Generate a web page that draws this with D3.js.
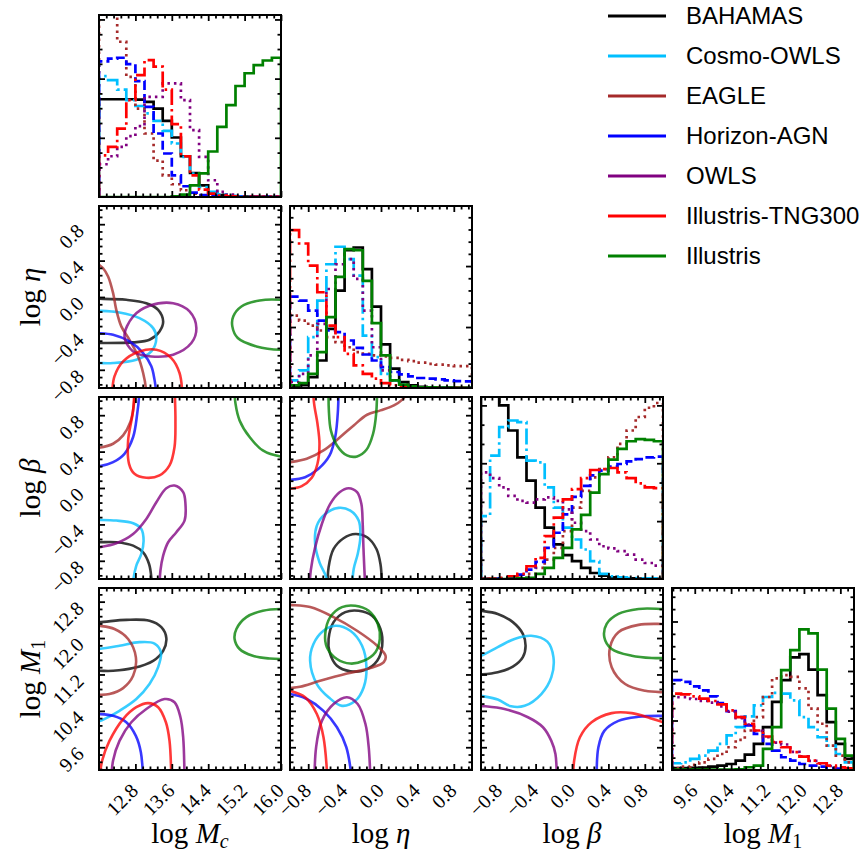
<!DOCTYPE html>
<html>
<head>
<meta charset="utf-8">
<script src="https://cdn.jsdelivr.net/npm/d3@7"></script>
<style>
body{margin:0;background:#fff;}
svg{display:block;}
</style>
</head>
<body>
<svg id="chart" width="862" height="859"></svg>
<script>
// simulations, in plotting order
var sims = ["BAHAMAS","Cosmo-OWLS","EAGLE","Horizon-AGN","OWLS","Illustris-TNG300","Illustris"];
var colors = ["#000000","#00bfff","#a52a2a","#0000ff","#800080","#ff0000","#008000"];
var dashes = [null,"16,4,2.5,4","2.5,4","9,4","2.5,4","16,4,2.5,4",null];

var params = ["Mc","eta","beta","M1"];
var ranges = {Mc:[12,16], eta:[-1,1], beta:[-1,1], M1:[9.1,13.1]};
var majorTicks = {
    Mc:[12.8,13.6,14.4,15.2,16.0],
    eta:[-0.8,-0.4,0.0,0.4,0.8],
    beta:[-0.8,-0.4,0.0,0.4,0.8],
    M1:[9.6,10.4,11.2,12.0,12.8]
};
// unlabelled y ticks of the histograms (relative height units): spacing, and every n-th is long
var histTickStep = [0.0813, 0.067, 0.106, 0.068];
var histTickMajorEvery = [4, 5, 3, 4];

// 1d histograms, 20 bins over the range, heights relative to the panel
var histMc = [
 [0.537,0.537,0.537,0.537,0.535,0.523,0.486,0.418,0.327,0.224,0.132,0.064,0.022,0.01,0.004,0.003,0.002,0.002,0.001,0.001],
 [0.664,0.642,0.59,0.532,0.5,0.459,0.418,0.363,0.294,0.22,0.128,0.055,0.028,0.015,0.007,0.004,0.002,0.002,0.001,0.001],
 [1.1,1.3,0.853,0.66,0.486,0.349,0.2,0.119,0.07,0.037,0.018,0.008,0.004,0.002,0.001,0.001,0.001,0.001,0.001,0.001],
 [0.745,0.76,0.765,0.73,0.637,0.495,0.349,0.239,0.119,0.059,0.024,0.01,0.005,0.003,0.002,0.001,0.001,0.001,0.001,0.001],
 [0.18,0.224,0.275,0.334,0.389,0.55,0.55,0.624,0.624,0.532,0.367,0.22,0.092,0.028,0.013,0.004,0.002,0.001,0.001,0.001],
 [0.229,0.275,0.376,0.532,0.67,0.752,0.716,0.59,0.4,0.224,0.119,0.04,0.018,0.008,0.003,0.002,0.001,0.001,0.001,0.001],
 [0,0,0,0,0,0,0,0,0.003,0.013,0.064,0.13,0.25,0.385,0.505,0.61,0.68,0.725,0.75,0.765]
];
var histEta = [
 [0.005,0.015,0.06,0.151,0.325,0.535,0.757,0.772,0.653,0.447,0.24,0.106,0.033,0.015,0.007,0.003,0.002,0.002,0.001,0.001],
 [0.042,0.097,0.279,0.48,0.68,0.776,0.708,0.617,0.288,0.17,0.078,0.042,0.018,0.009,0.004,0.003,0.002,0.002,0.001,0.001],
 [0.398,0.37,0.343,0.316,0.279,0.252,0.224,0.197,0.188,0.179,0.173,0.166,0.155,0.148,0.139,0.133,0.128,0.124,0.12,0.12],
 [0.502,0.48,0.425,0.37,0.316,0.307,0.261,0.221,0.184,0.151,0.115,0.088,0.075,0.064,0.055,0.051,0.047,0.042,0.038,0.036],
 [0.033,0.078,0.179,0.352,0.544,0.68,0.708,0.6,0.425,0.224,0.097,0.042,0.018,0.008,0.005,0.003,0.002,0.002,0.001,0.001],
 [0.867,0.794,0.672,0.526,0.343,0.279,0.188,0.124,0.078,0.051,0.027,0.015,0.007,0.004,0.003,0.002,0.002,0.001,0.001,0.001],
 [0.015,0.027,0.078,0.197,0.389,0.611,0.763,0.757,0.589,0.356,0.179,0.042,0.018,0.009,0.004,0.003,0.002,0.002,0.001,0.001]
];
var histBeta = [
 [1.08,1.02,0.954,0.816,0.668,0.54,0.392,0.282,0.19,0.131,0.098,0.061,0.033,0.018,0.009,0.004,0.003,0.002,0.001,0.001],
 [0.346,0.678,0.834,0.871,0.862,0.65,0.641,0.503,0.392,0.282,0.217,0.162,0.098,0.028,0.015,0.009,0.005,0.004,0.003,0.003],
 [0.001,0.001,0.002,0.003,0.006,0.028,0.061,0.107,0.171,0.263,0.392,0.484,0.558,0.604,0.669,0.742,0.816,0.89,0.941,0.967],
 [0.001,0.002,0.003,0.006,0.024,0.052,0.094,0.171,0.254,0.355,0.451,0.512,0.569,0.595,0.617,0.632,0.646,0.659,0.668,0.672],
 [0.586,0.554,0.503,0.457,0.429,0.42,0.438,0.448,0.429,0.383,0.309,0.263,0.217,0.18,0.168,0.153,0.134,0.107,0.088,0.074],
 [0.001,0.002,0.006,0.015,0.028,0.07,0.116,0.236,0.337,0.438,0.494,0.554,0.599,0.604,0.61,0.586,0.554,0.525,0.503,0.499],
 [0,0,0,0.001,0.003,0.006,0.028,0.061,0.116,0.171,0.273,0.352,0.475,0.576,0.656,0.715,0.757,0.769,0.764,0.757]
];
var histM1 = [
 [0.011,0.011,0.012,0.013,0.018,0.024,0.033,0.052,0.085,0.144,0.236,0.374,0.494,0.619,0.637,0.552,0.411,0.263,0.144,0.061],
 [0.037,0.042,0.061,0.079,0.107,0.144,0.19,0.236,0.295,0.355,0.401,0.424,0.42,0.383,0.291,0.236,0.18,0.134,0.088,0.042],
 [0.01,0.018,0.028,0.042,0.061,0.088,0.125,0.166,0.217,0.291,0.401,0.503,0.521,0.512,0.448,0.337,0.254,0.134,0.079,0.042],
 [0.494,0.484,0.46,0.438,0.405,0.368,0.324,0.291,0.245,0.199,0.144,0.107,0.07,0.052,0.033,0.024,0.018,0.01,0.008,0.006],
 [0.40,0.40,0.39,0.38,0.37,0.35,0.32,0.285,0.25,0.215,0.18,0.15,0.14,0.1,0.075,0.05,0.035,0.022,0.014,0.008],
 [0.42,0.416,0.405,0.392,0.379,0.361,0.328,0.291,0.254,0.217,0.184,0.153,0.125,0.098,0.074,0.052,0.037,0.024,0.015,0.009],
 [0.002,0.002,0.002,0.002,0.002,0.002,0.002,0.003,0.015,0.024,0.116,0.236,0.549,0.659,0.773,0.751,0.552,0.337,0.171,0.079]
];

// 2d contours (one level), points in data units; a contour whose last point repeats the first is a closed loop
var cMcEta = [
 [[11.65,-0.02],[12.0,-0.02],[12.6,-0.031],[13.04,-0.068],[13.3,-0.141],[13.41,-0.269],[13.33,-0.378],[13.11,-0.47],[12.75,-0.499],[12.0,-0.506],[11.65,-0.506]],
 [[11.65,-0.152],[12.0,-0.152],[12.45,-0.17],[12.89,-0.232],[13.19,-0.342],[13.26,-0.451],[13.15,-0.598],[12.82,-0.689],[12.31,-0.726],[12.0,-0.726],[11.65,-0.718]],
 [[11.9,0.39],[12.0,0.353],[12.09,0.316],[12.2,0.225],[12.31,0.042],[12.38,-0.141],[12.49,-0.323],[12.67,-0.47],[12.86,-0.653],[12.97,-0.835],[13.03,-1.0],[13.04,-1.13]],
 [[11.72,-0.397],[12.0,-0.397],[12.31,-0.415],[12.67,-0.488],[12.97,-0.616],[13.15,-0.762],[13.22,-0.908],[13.26,-1.055]],
 [[12.56,-0.433],[12.75,-0.214],[13.11,-0.097],[13.63,-0.068],[13.99,-0.159],[14.14,-0.342],[14.03,-0.506],[13.63,-0.634],[13.15,-0.653],[12.75,-0.598],[12.56,-0.433]],
 [[12.29,-1.055],[12.34,-0.872],[12.53,-0.707],[12.89,-0.598],[13.26,-0.579],[13.59,-0.671],[13.77,-0.835],[13.83,-1.055]],
 [[16.41,-0.068],[15.99,-0.031],[15.53,-0.038],[15.13,-0.104],[14.95,-0.214],[14.93,-0.323],[15.05,-0.451],[15.46,-0.543],[15.99,-0.579],[16.41,-0.561]]
];
var cMcBeta = [
 [[11.72,-0.596],[12.0,-0.596],[12.38,-0.596],[12.75,-0.633],[12.97,-0.707],[13.1,-0.835],[13.15,-0.982],[13.16,-1.13]],
 [[11.72,-0.351],[12.0,-0.351],[12.38,-0.358],[12.75,-0.387],[12.93,-0.45],[12.98,-0.578],[12.93,-0.725],[12.82,-0.853],[12.75,-1.018],[12.73,-1.13]],
 [[11.72,0.431],[12.0,0.442],[12.31,0.486],[12.53,0.578],[12.69,0.725],[12.76,0.89],[12.79,1.073]],
 [[11.72,0.229],[12.0,0.237],[12.31,0.284],[12.56,0.376],[12.75,0.56],[12.84,0.817],[12.88,1.0],[12.89,1.147]],
 [[11.72,-0.67],[12.0,-0.652],[12.38,-0.607],[12.75,-0.505],[13.04,-0.34],[13.26,-0.156],[13.48,-0.002],[13.66,0.027],[13.85,-0.046],[13.9,-0.174],[13.88,-0.358],[13.7,-0.486],[13.52,-0.596],[13.41,-0.743],[13.35,-0.908],[13.33,-1.092]],
 [[12.78,1.147],[12.75,0.853],[12.64,0.523],[12.66,0.266],[12.78,0.156],[13.04,0.112],[13.33,0.138],[13.55,0.248],[13.66,0.45],[13.68,0.743],[13.67,1.0],[13.67,1.147]],
 [[14.97,1.147],[15.0,0.927],[15.09,0.743],[15.31,0.56],[15.6,0.413],[15.99,0.347],[16.26,0.347]]
];
var cEtaBeta = [
 [[-0.588,-1.13],[-0.576,-0.872],[-0.521,-0.67],[-0.411,-0.552],[-0.282,-0.505],[-0.153,-0.541],[-0.05,-0.67],[-0.006,-0.835],[0.013,-1.13]],
 [[-0.595,-1.13],[-0.602,-0.982],[-0.676,-0.817],[-0.724,-0.615],[-0.705,-0.413],[-0.613,-0.285],[-0.466,-0.218],[-0.337,-0.248],[-0.245,-0.358],[-0.227,-0.541],[-0.256,-0.725],[-0.3,-0.89],[-0.322,-1.13]],
 [[-1.11,0.273],[-1.0,0.284],[-0.816,0.321],[-0.632,0.413],[-0.448,0.56],[-0.3,0.688],[-0.153,0.805],[-0.006,0.853],[0.142,0.908],[0.234,0.971],[0.307,1.073]],
 [[-0.466,1.147],[-0.473,0.853],[-0.503,0.56],[-0.565,0.358],[-0.687,0.211],[-0.834,0.119],[-1.0,0.09],[-1.11,0.09]],
 [[-0.786,-1.13],[-0.772,-0.908],[-0.724,-0.652],[-0.65,-0.395],[-0.558,-0.174],[-0.455,-0.046],[-0.355,-0.002],[-0.263,-0.046],[-0.216,-0.174],[-0.201,-0.395],[-0.193,-0.652],[-0.182,-0.908],[-0.171,-1.13]],
 [[-0.75,1.147],[-0.735,0.927],[-0.698,0.706],[-0.676,0.486],[-0.698,0.266],[-0.761,0.112],[-0.871,0.02],[-1.0,-0.009],[-1.11,-0.017]],
 [[-0.576,1.147],[-0.573,0.853],[-0.551,0.633],[-0.484,0.468],[-0.374,0.358],[-0.263,0.347],[-0.16,0.42],[-0.087,0.596],[-0.053,0.817],[-0.042,1.147]]
];
var cMcM1 = [
 [[11.72,12.35],[12.0,12.35],[12.6,12.4],[13.11,12.38],[13.37,12.24],[13.48,12.0],[13.41,11.72],[13.19,11.5],[12.75,11.34],[12.31,11.28],[12.0,11.28],[11.72,11.28]],
 [[11.72,11.74],[12.0,11.76],[12.45,11.83],[12.89,11.91],[13.22,11.88],[13.36,11.69],[13.3,11.36],[13.11,10.99],[12.82,10.66],[12.45,10.4],[12.16,10.24],[12.0,10.17],[11.72,10.11]],
 [[11.72,12.29],[12.0,12.27],[12.34,12.2],[12.64,11.98],[12.81,11.58],[12.75,11.17],[12.53,10.9],[12.23,10.77],[12.0,10.75],[11.72,10.75]],
 [[11.72,10.33],[12.0,10.33],[12.31,10.29],[12.6,10.15],[12.81,9.85],[12.92,9.49],[12.97,8.87]],
 [[12.27,8.87],[12.31,9.31],[12.45,9.74],[12.71,10.15],[13.04,10.44],[13.44,10.66],[13.66,10.59],[13.79,10.26],[13.85,9.82],[13.88,8.87]],
 [[12.01,8.87],[12.07,9.31],[12.23,9.74],[12.53,10.22],[12.82,10.48],[13.08,10.57],[13.3,10.48],[13.47,10.15],[13.55,9.74],[13.59,8.87]],
 [[16.41,12.62],[15.99,12.64],[15.6,12.6],[15.24,12.46],[15.02,12.2],[14.98,11.98],[15.09,11.76],[15.38,11.61],[15.75,11.55],[15.99,11.54],[16.41,11.56]]
];
var cEtaM1 = [
 [[-0.576,11.98],[-0.521,12.35],[-0.392,12.57],[-0.245,12.6],[-0.098,12.49],[-0.006,12.2],[0.013,11.83],[-0.042,11.5],[-0.171,11.3],[-0.337,11.27],[-0.484,11.39],[-0.565,11.69],[-0.576,11.98]],
 [[-0.779,11.5],[-0.742,11.87],[-0.632,12.16],[-0.503,12.27],[-0.337,12.16],[-0.208,11.83],[-0.16,11.36],[-0.19,10.92],[-0.282,10.62],[-0.429,10.51],[-0.576,10.7],[-0.705,10.99],[-0.779,11.5]],
 [[-1.11,12.75],[-1.0,12.73],[-0.779,12.68],[-0.521,12.46],[-0.263,12.16],[-0.042,11.83],[0.05,11.61],[0.031,11.47],[-0.116,11.34],[-0.374,11.22],[-0.669,11.06],[-0.89,10.93],[-1.0,10.9],[-1.11,10.88]],
 [[-1.11,10.78],[-1.0,10.77],[-0.816,10.66],[-0.632,10.4],[-0.484,10.04],[-0.381,9.6],[-0.319,8.87]],
 [[-0.731,8.87],[-0.713,9.6],[-0.65,10.18],[-0.521,10.55],[-0.374,10.7],[-0.256,10.55],[-0.171,10.11],[-0.135,9.6],[-0.116,8.87]],
 [[-1.11,10.88],[-1.0,10.84],[-0.834,10.7],[-0.705,10.33],[-0.632,9.82],[-0.588,8.87]],
 [[-0.613,12.09],[-0.558,12.46],[-0.429,12.68],[-0.282,12.71],[-0.135,12.6],[-0.035,12.31],[-0.013,11.98],[-0.061,11.69],[-0.19,11.5],[-0.337,11.44],[-0.484,11.54],[-0.595,11.8],[-0.613,12.09]]
];
var cBetaM1 = [
 [[-1.11,12.62],[-1.0,12.6],[-0.816,12.53],[-0.65,12.35],[-0.54,12.09],[-0.51,11.83],[-0.54,11.58],[-0.65,11.37],[-0.816,11.25],[-1.0,11.2],[-1.11,11.19]],
 [[-1.11,11.54],[-1.0,11.61],[-0.816,11.8],[-0.632,11.98],[-0.448,12.05],[-0.271,11.92],[-0.204,11.58],[-0.227,11.14],[-0.337,10.77],[-0.521,10.51],[-0.669,10.5],[-0.816,10.65],[-1.0,10.73],[-1.11,10.77]],
 [[1.1,12.31],[1.0,12.31],[0.731,12.29],[0.51,12.13],[0.418,11.8],[0.436,11.36],[0.584,10.99],[0.805,10.84],[1.0,10.81],[1.1,10.81]],
 [[0.271,8.87],[0.29,9.6],[0.355,9.96],[0.51,10.18],[0.731,10.27],[1.0,10.29],[1.1,10.29]],
 [[-1.11,10.53],[-1.0,10.51],[-0.742,10.44],[-0.484,10.26],[-0.319,10.04],[-0.227,9.74],[-0.182,9.45],[-0.168,8.87]],
 [[0.013,8.87],[0.024,9.31],[0.087,9.82],[0.215,10.15],[0.436,10.35],[0.657,10.35],[0.86,10.24],[1.0,10.15],[1.1,10.11]],
 [[1.1,12.64],[1.0,12.64],[0.731,12.64],[0.51,12.53],[0.381,12.31],[0.355,12.02],[0.436,11.76],[0.657,11.61],[0.878,11.56],[1.0,11.56],[1.1,11.56]]
];

var hists = [histMc, histEta, histBeta, histM1];
var contours = [
    {row:1, col:0, data:cMcEta},
    {row:2, col:0, data:cMcBeta},
    {row:2, col:1, data:cEtaBeta},
    {row:3, col:0, data:cMcM1},
    {row:3, col:1, data:cEtaM1},
    {row:3, col:2, data:cBetaM1}
];

var size = 182, gap = 9, marginLeft = 99, marginTop = 15;
var svg = d3.select("#chart");
svg.append("rect").attr("width",862).attr("height",859).attr("fill","#fff");

function px(c){ return marginLeft + c*(size+gap); }
function py(r){ return marginTop + r*(size+gap); }
function xScale(c){ return d3.scaleLinear().domain(ranges[params[c]]).range([px(c), px(c)+size]); }
function yScale(r){ return d3.scaleLinear().domain(ranges[params[r]]).range([py(r)+size, py(r)]); }

var fmt = d3.format(".1f");
var serif = "'Liberation Serif', 'DejaVu Serif', serif";

function minorTicks(p){
    var m = majorTicks[p], step = (m[1]-m[0])/5, lo = ranges[p][0], hi = ranges[p][1];
    var out = [];
    for (var n = -50; n < 50; n++) {
        var v = m[0] + n*step;
        if (v > lo + 1e-6 && v < hi - 1e-6 && ((n % 5) + 5) % 5 != 0) out.push(v);
    }
    return out;
}

function clipFor(r, c){
    var id = "clip"+r+c;
    svg.append("clipPath").attr("id", id).append("rect")
        .attr("x", px(c)).attr("y", py(r)).attr("width", size).attr("height", size);
    return "url(#"+id+")";
}

// ticks pointing inwards on all four sides, then the frame
function frame(r, c, xs, ys, xsets, ysets){
    var g = svg.append("g").attr("class","frame");
    var x0 = px(c), y0 = py(r);
    xsets.forEach(function(s){
        g.append("g").attr("transform","translate(0,"+(y0+size)+")")
            .call(d3.axisBottom(xs).tickValues(s[0]).tickSize(-s[1]).tickFormat(""));
        g.append("g").attr("transform","translate(0,"+y0+")")
            .call(d3.axisTop(xs).tickValues(s[0]).tickSize(-s[1]).tickFormat(""));
    });
    ysets.forEach(function(s){
        g.append("g").attr("transform","translate("+x0+",0)")
            .call(d3.axisLeft(ys).tickValues(s[0]).tickSize(-s[1]).tickFormat(""));
        g.append("g").attr("transform","translate("+(x0+size)+",0)")
            .call(d3.axisRight(ys).tickValues(s[0]).tickSize(-s[1]).tickFormat(""));
    });
    g.selectAll(".domain").remove();
    g.selectAll(".tick line").attr("stroke","#000").attr("stroke-width",1.8);
    g.append("rect").attr("x",x0).attr("y",y0).attr("width",size).attr("height",size)
        .attr("fill","none").attr("stroke","#000").attr("stroke-width",2);
}
function xTickSets(p){ return [[majorTicks[p], 6], [minorTicks(p), 3.5]]; }

// diagonal: step histograms
hists.forEach(function(h, i){
    var xs = xScale(i);
    var ys = d3.scaleLinear().domain([0,1]).range([py(i)+size, py(i)]);
    var lo = ranges[params[i]][0], hi = ranges[params[i]][1];
    var edges = d3.range(21).map(function(k){ return lo + k*(hi-lo)/20; });
    var line = d3.line().x(function(d){ return xs(d[0]); }).y(function(d){ return ys(d[1]); });
    var g = svg.append("g").attr("clip-path", clipFor(i,i));
    h.forEach(function(vals, s){
        var pts = [[edges[0],0]];
        vals.forEach(function(v,k){ pts.push([edges[k],v],[edges[k+1],v]); });
        pts.push([edges[20],0]);
        g.append("path").attr("d", line(pts)).attr("fill","none")
            .attr("stroke", colors[s]).attr("stroke-width", 2.7)
            .attr("stroke-dasharray", dashes[s]);
    });
    var st = histTickStep[i], every = histTickMajorEvery[i];
    var n = d3.range(1, Math.floor(1/st)+1);
    var ymaj = n.filter(function(k){ return k % every == 0; }).map(function(k){ return k*st; });
    var ymin = n.filter(function(k){ return k % every != 0; }).map(function(k){ return k*st; });
    frame(i, i, xs, ys, xTickSets(params[i]), [[ymaj, 6], [ymin, 3.5]]);
});

// off-diagonal: contours
contours.forEach(function(p){
    var xs = xScale(p.col), ys = yScale(p.row);
    var g = svg.append("g").attr("clip-path", clipFor(p.row,p.col));
    p.data.forEach(function(pts, s){
        var a = pts[0], b = pts[pts.length-1];
        var closed = a[0] == b[0] && a[1] == b[1];
        var line = d3.line().x(function(d){ return xs(d[0]); }).y(function(d){ return ys(d[1]); })
            .curve(closed ? d3.curveCatmullRomClosed : d3.curveCatmullRom);
        g.append("path").attr("d", line(closed ? pts.slice(0,-1) : pts)).attr("fill","none")
            .attr("stroke", colors[s]).attr("stroke-opacity", 0.78).attr("stroke-width", 2.6);
    });
    frame(p.row, p.col, xs, ys, xTickSets(params[p.col]), xTickSets(params[p.row]));
});

// tick labels: bottom row and first column
for (var c = 0; c < 4; c++) {
    var xsc = xScale(c), yb = py(3)+size;
    majorTicks[params[c]].forEach(function(v){
        svg.append("text").attr("transform","translate("+(xsc(v)+4)+","+(yb+22)+") rotate(-45)")
            .attr("text-anchor","end").attr("font-family",serif).attr("font-size",20)
            .text(fmt(v));
    });
}
for (var r = 1; r < 4; r++) {
    var ysc = yScale(r);
    majorTicks[params[r]].forEach(function(v){
        svg.append("text").attr("transform","translate("+(px(0)-14)+","+(ysc(v)+8)+") rotate(-45)")
            .attr("text-anchor","end").attr("font-family",serif).attr("font-size",20)
            .text(fmt(v));
    });
}

// axis titles
function title(sel, sym, sub){
    sel.attr("font-family",serif).attr("font-size",29).attr("text-anchor","middle");
    sel.append("tspan").text("log ");
    sel.append("tspan").attr("font-style","italic").text(sym);
    if (sub) sel.append("tspan").attr("font-style", sub == "1" ? "normal" : "italic")
        .attr("font-size",20).attr("dy",5).text(sub);
}
var symbols = [["M","c"],["\u03b7",null],["\u03b2",null],["M","1"]];
symbols.forEach(function(s, c){
    title(svg.append("text").attr("x", px(c)+size/2).attr("y", 843), s[0], s[1]);
    if (c > 0) {
        title(svg.append("text").attr("transform","translate(40,"+(py(c)+size/2)+") rotate(-90)"), s[0], s[1]);
    }
});

// legend
var lg = svg.append("g");
sims.forEach(function(name, i){
    var y = 16 + i*40;
    lg.append("line").attr("x1",608).attr("x2",666).attr("y1",y).attr("y2",y)
        .attr("stroke",colors[i]).attr("stroke-width",3);
    lg.append("text").attr("x",686).attr("y",y).attr("dy","0.35em")
        .attr("font-family","'Liberation Sans', Arial, sans-serif").attr("font-size",24)
        .text(name);
});
</script>
</body>
</html>
